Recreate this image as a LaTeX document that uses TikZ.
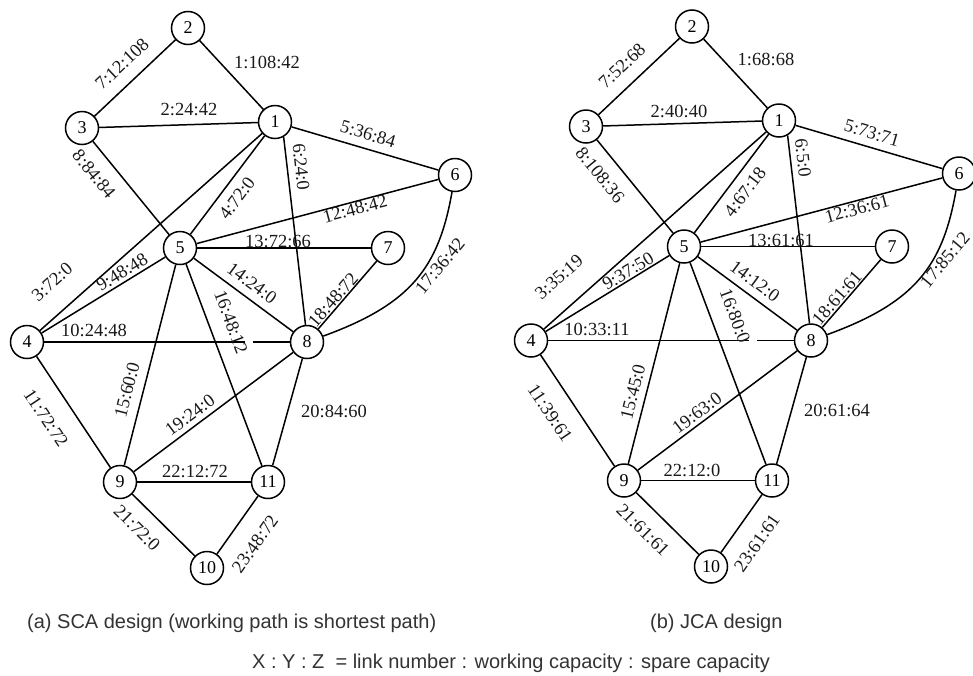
\documentclass[tikz,border=0pt]{standalone}
\usepackage{fontspec}
\setmainfont{Liberation Serif}
\newfontfamily\capfont{Liberation Sans}

% One network: eleven nodes and twenty-three links (node names get a prefix per scope)
\newcommand\netbody{%
  \node[vtx] (n1)  at (275,122) {1};
  \node[vtx] (n2)  at (188,28)  {2};
  \node[vtx] (n3)  at (82,128)  {3};
  \node[vtx] (n4)  at (27,342)  {4};
  \node[vtx] (n5)  at (180,248) {5};
  \node[vtx] (n6)  at (455,175) {6};
  \node[vtx] (n7)  at (388,248) {7};
  \node[vtx] (n8)  at (307,342) {8};
  \node[vtx] (n9)  at (120,482) {9};
  \node[vtx] (n10) at (207,568) {10};
  \node[vtx] (n11) at (268,482) {11};
  \coordinate (g1) at (245,342);
  \coordinate (g2) at (253,342);
  \draw[link] (n2) -- (n1);   % 1
  \draw[link] (n3) -- (n1);   % 2
  \draw[link] (n4) -- (n1);   % 3
  \draw[link] (n5) -- (n1);   % 4
  \draw[link] (n1) -- (n6);   % 5
  \draw[link] (n1.-60) -- (n8.95); % 6
  \draw[link] (n3) -- (n2);   % 7
  \draw[link] (n3) -- (n5);   % 8
  \draw[link] (n4) -- (n5);   % 9
  \draw[link] (n4) -- (g1);   % 10 (broken near 8)
  \draw[link] (g2) -- (n8);
  \draw[link] (n4) -- (n9);   % 11
  \draw[link] (n5) -- (n6);   % 12
  \draw[link] (n5) -- (n7);   % 13
  \draw[link] (n5) -- (n8);   % 14
  \draw[link] (n5) -- (n9);   % 15
  \draw[link] (n5) -- (n11);  % 16
  \draw[link] (n8) to[out=20,in=-100,looseness=1.15] (n6); % 17
  \draw[link] (n8) -- (n7);   % 18
  \draw[link] (n9) -- (n8);   % 19
  \draw[link] (n8) -- (n11);  % 20
  \draw[link] (n9) -- (n10);  % 21
  \draw[link] (n9) -- (n11);  % 22
  \draw[link] (n10) -- (n11); % 23
}

\begin{document}
\begin{tikzpicture}[x=1pt,y=-1pt,
  vtx/.style={circle,draw,line width=1.5pt,minimum size=33pt,inner sep=0pt,
    font=\fontsize{18}{18}\selectfont},
  link/.style={line width=1.5pt},
  lab/.style={inner sep=0pt,font=\fontsize{18.5}{19}\selectfont,text=black!90},
  captext/.style={inner sep=0pt,anchor=base west,
    font=\capfont\fontsize{20}{22}\selectfont,text=black!80}]
\useasboundingbox (0,0) rectangle (973,675);

% (a) SCA design
\begin{scope}[name prefix=a-]
  \netbody
\end{scope}
\node[lab,rotate=43.3]  (a-l7)  at (122,64)  {7:12:108};
\node[lab]              (a-l1)  at (267,62)  {1:108:42};
\node[lab]              (a-l2)  at (189,110) {2:24:42};
\node[lab,rotate=-16.3] (a-l5)  at (368,134) {5:36:84};
\node[lab,rotate=-83.9] (a-l6)  at (301,167) {6:24:0};
\node[lab,rotate=-50.8] (a-l8)  at (94,174)  {8:84:84};
\node[lab,rotate=53.3]  (a-l4)  at (237,198) {4:72:0};
\node[lab,rotate=14.9]  (a-l12) at (355,209) {12:48:42};
\node[lab,rotate=41.7]  (a-l3)  at (52,282)  {3:72:0};
\node[lab,rotate=31.6]  (a-l9)  at (122,272) {9:48:48};
\node[lab]              (a-l13) at (278,241) {13:72:66};
\node[lab,rotate=-36.5] (a-l14) at (252,283) {14:24:0};
\node[lab,rotate=-69.4] (a-l16) at (231,322) {16:48:12};
\node[lab,rotate=49.2]  (a-l18) at (333,300) {18:48:72};
\node[lab,rotate=50]    (a-l17) at (440,266) {17:36:42};
\node[lab]              (a-l10) at (94,330)  {10:24:48};
\node[lab,rotate=75.6]  (a-l15) at (127,390) {15:60:0};
\node[lab,rotate=36.8]  (a-l19) at (190,415) {19:24:0};
\node[lab]              (a-l20) at (334,411) {20:84:60};
\node[lab,rotate=-56.4] (a-l11) at (46,418)  {11:72:72};
\node[lab]              (a-l22) at (195,471) {22:12:72};
\node[lab,rotate=-44.7] (a-l21) at (137,528) {21:72:0};
\node[lab,rotate=54.6]  (a-l23) at (255,544) {23:48:72};

% (b) JCA design
\begin{scope}[name prefix=b-,xshift=504pt,yshift=1.5pt]
  \netbody
\end{scope}
\node[lab,rotate=43.3]  (b-l7)  at (622,66)  {7:52:68};
\node[lab]              (b-l1)  at (766,59)  {1:68:68};
\node[lab]              (b-l2)  at (679,111) {2:40:40};
\node[lab,rotate=-16.3] (b-l5)  at (872,133) {5:73:71};
\node[lab,rotate=-83.5] (b-l6)  at (803,158) {6:5:0};
\node[lab,rotate=-50.8] (b-l8)  at (600,175) {8:108:36};
\node[lab,rotate=52.8]  (b-l4)  at (745,192) {4:67:18};
\node[lab,rotate=14.9]  (b-l12) at (857,209) {12:36:61};
\node[lab,rotate=41.3]  (b-l3)  at (559,277) {3:35:19};
\node[lab,rotate=31.4]  (b-l9)  at (628,271) {9:37:50};
\node[lab]              (b-l13) at (781,240) {13:61:61};
\node[lab,rotate=-36.5] (b-l14) at (755,281) {14:12:0};
\node[lab,rotate=-69.5] (b-l16) at (735,316) {16:80:0};
\node[lab,rotate=49.2]  (b-l18) at (837,298) {18:61:61};
\node[lab,rotate=50]    (b-l17) at (945,260) {17:85:12};
\node[lab]              (b-l10) at (597,329) {10:33:11};
\node[lab,rotate=75.9]  (b-l15) at (633,392) {15:45:0};
\node[lab,rotate=37.2]  (b-l19) at (697,413) {19:63:0};
\node[lab]              (b-l20) at (837,410) {20:61:64};
\node[lab,rotate=-56.0] (b-l11) at (550,413) {11:39:61};
\node[lab]              (b-l22) at (692,470) {22:12:0};
\node[lab,rotate=-44.7] (b-l21) at (643,530) {21:61:61};
\node[lab,rotate=55.1]  (b-l23) at (757,543) {23:61:61};

% captions and legend
\node[captext] (capa) at (27,628)  {(a) SCA design (working path is shortest path)};
\node[captext] (capb) at (650,628) {(b) JCA design};
\node[captext] (legend) at (252,668) {X : Y : Z\ \ = link number : working capacity : spare capacity};
\end{tikzpicture}
\end{document}
